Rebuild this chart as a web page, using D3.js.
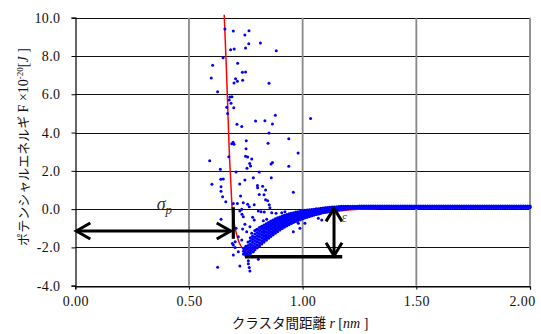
<!DOCTYPE html>
<html><head><meta charset="utf-8">
<script src="https://cdn.jsdelivr.net/npm/d3@7"></script>
<style>body{margin:0;background:#fff}svg{display:block}</style>
</head><body>
<svg id="c" width="541" height="334"></svg>
<script>
// ---- data ----
const xTicks = [0, 0.5, 1.0, 1.5, 2.0];
const yTicks = [-4, -2, 0, 2, 4, 6, 8, 10];

// red fitted curve (r [nm], F)
const fitCurve = [[0.655,10.15],[0.664,7.5],[0.670,5.5],[0.677,3.1],[0.684,1.4],[0.690,0.0],[0.698,-0.7],[0.708,-1.25],[0.717,-1.62],[0.727,-1.9],[0.740,-2.08],[0.755,-2.16],[0.770,-2.14],[0.79,-2.05],[0.815,-1.8],[0.842,-1.52],[0.88,-1.18],[0.915,-0.88],[0.96,-0.62],[1.0,-0.45],[1.1,-0.2],[1.2,-0.05],[1.35,0.05],[1.6,0.1],[2.0,0.12]];

// sparse scatter points (r, F)
const scatterPts = [
[0.658,9.41],[0.695,9.30],[0.764,9.32],[0.746,9.10],[0.763,8.64],[0.814,8.68],[0.683,8.33],[0.699,8.36],[0.749,8.42],[0.884,8.28],[0.650,7.91],[0.604,7.51],[0.714,7.62],[0.735,7.15],[0.749,7.16],[0.598,6.85],[0.705,6.81],[0.713,6.68],[0.698,6.59],[0.736,6.73],[0.852,6.57],[0.626,6.13],[0.680,5.86],[0.689,5.87],[0.677,5.70],[0.685,5.53],[0.666,5.32],[0.697,5.30],
[0.670,5.00],[0.880,4.90],[1.035,4.74],[0.711,4.43],[0.732,4.31],[0.793,4.60],[0.834,4.62],[0.867,4.45],[0.852,3.98],[0.752,3.57],[0.688,3.42],[0.698,3.39],[0.694,3.49],[0.848,3.44],[0.939,3.68],[0.751,3.16],[0.980,2.93],[0.675,2.74],[0.749,2.76],[0.758,2.72],[0.776,2.62],[0.591,2.53],[0.767,2.39],[0.771,2.25],[0.867,2.44],[0.861,2.36],[0.939,2.24],[0.755,2.13],[0.638,2.08],[0.707,1.94],[0.809,1.94],[0.862,1.64],[0.783,1.64],[0.640,1.56],[0.651,1.57],[0.746,1.52],[0.601,1.30],[0.723,1.31],[0.801,1.24],[0.824,1.19],[0.802,1.12],[0.641,1.17],[0.641,0.93],[0.837,1.00],[0.959,0.88],[0.648,0.65],[0.727,0.68],[0.809,0.77],[0.830,0.75],[0.837,0.49],
[0.662,0.39],[0.695,0.30],[0.713,0.30],[0.739,0.33],[0.758,0.25],[0.787,0.23],[0.846,0.44],[0.853,0.23],[0.856,0.07],[0.765,0.13],[0.732,0.0],[0.724,-0.10],[0.733,-0.27],[0.805,-0.10],[0.817,-0.14],[0.831,-0.15],[0.864,-0.19],[0.883,-0.22],[0.908,-0.19],[0.922,-0.14],[0.963,-0.27],[0.641,-0.53],[0.739,-0.40],[0.780,-0.43],[0.787,-0.57],[0.827,-0.61],[0.842,-0.53],
[0.707,-1.00],[0.717,-1.44],[0.732,-1.61],[0.695,-1.88],[0.703,-2.00],[0.703,-1.70],[0.717,-2.23],[0.746,-2.23],[0.768,-2.28],[0.783,-2.23],[0.754,-2.31],[0.805,-2.62],[0.761,-2.70],[0.724,-2.97],[0.761,-2.85],[0.765,-3.05],[0.768,-3.23],[0.626,-3.04],[0.695,-2.40],[0.691,-1.79],[0.746,-0.79],[0.768,-0.92],[0.736,-1.04],[0.754,-1.18],[0.776,-1.26],[0.798,-1.06],[0.820,-0.95],
[0.981,-0.74],[1.01,-0.74],[0.988,-1.0],[0.959,-1.18],[1.069,-0.48],[1.084,-0.57]
];

// dense band: [r, F values at that r ...]
const bandNear = [
[0.74,-2.35,-2.2,-2.05],[0.75,-2.42,-2.27,-2.1,-1.95],[0.76,-2.4,-2.24,-2.08,-1.9,-1.72],[0.77,-2.32,-2.16,-2.0,-1.84,-1.66,-1.5],
[0.78,-2.22,-2.05,-1.9,-1.74,-1.58,-1.42],[0.79,-2.12,-1.96,-1.8,-1.64,-1.48,-1.3,-1.12],[0.80,-2.02,-1.86,-1.7,-1.54,-1.38,-1.22,-1.05],
[0.81,-1.92,-1.76,-1.6,-1.44,-1.28,-1.12,-0.96],[0.82,-1.82,-1.66,-1.5,-1.35,-1.2,-1.05,-0.9],[0.83,-1.72,-1.57,-1.42,-1.27,-1.12,-0.98,-0.84],
[0.84,-1.62,-1.48,-1.34,-1.2,-1.05,-0.91,-0.77],[0.85,-1.52,-1.38,-1.25,-1.11,-0.97,-0.84,-0.7],[0.86,-1.43,-1.3,-1.17,-1.03,-0.9,-0.76,-0.63],
[0.87,-1.34,-1.21,-1.09,-0.96,-0.83,-0.7,-0.57],[0.88,-1.26,-1.14,-1.01,-0.89,-0.76,-0.64,-0.51],[0.89,-1.17,-1.05,-0.94,-0.82,-0.7,-0.58,-0.46],
[0.90,-1.09,-0.98,-0.87,-0.75,-0.64,-0.52,-0.41],[0.91,-1.01,-0.9,-0.8,-0.69,-0.58,-0.47,-0.37],[0.92,-0.94,-0.84,-0.74,-0.64,-0.53,-0.43,-0.33],
[0.93,-0.87,-0.77,-0.68,-0.58,-0.48,-0.39,-0.29],[0.94,-0.81,-0.72,-0.62,-0.53,-0.44,-0.34,-0.25],[0.95,-0.75,-0.66,-0.57,-0.48,-0.4,-0.31,-0.22],
[0.96,-0.69,-0.61,-0.52,-0.44,-0.36,-0.27,-0.19],[0.97,-0.64,-0.56,-0.48,-0.4,-0.32,-0.24,-0.16],[0.98,-0.59,-0.51,-0.44,-0.36,-0.29,-0.21,-0.14],
[0.99,-0.55,-0.47,-0.4,-0.33,-0.26,-0.18,-0.11],[1.00,-0.5,-0.43,-0.36,-0.29,-0.22,-0.15,-0.08],[1.01,-0.46,-0.39,-0.33,-0.26,-0.19,-0.13,-0.07],
[1.02,-0.42,-0.36,-0.29,-0.23,-0.17,-0.11,-0.05],[1.03,-0.38,-0.32,-0.26,-0.2,-0.14,-0.09,-0.04],[1.04,-0.35,-0.29,-0.23,-0.18,-0.12,-0.07,-0.02],
[1.05,-0.31,-0.26,-0.2,-0.15,-0.1,-0.05,-0.01],[1.06,-0.28,-0.22,-0.17,-0.12,-0.07,-0.03,0.01],[1.07,-0.25,-0.19,-0.14,-0.09,-0.05,-0.01,0.02],
[1.08,-0.22,-0.16,-0.11,-0.07,-0.02,0.01,0.04],[1.09,-0.19,-0.13,-0.09,-0.04,0.0,0.03,0.05],[1.10,-0.16,-0.11,-0.06,-0.02,0.02,0.05,0.07],
[1.11,-0.14,-0.09,-0.04,0.0,0.03,0.06,0.08],[1.12,-0.11,-0.07,-0.02,0.02,0.05,0.09],[1.13,-0.09,-0.05,0.0,0.03,0.06,0.1],
[1.14,-0.07,-0.03,0.01,0.04,0.07,0.11],[1.15,-0.05,-0.01,0.02,0.05,0.08,0.12],[1.16,-0.03,0.0,0.04,0.07,0.1,0.13],
[1.17,-0.02,0.02,0.05,0.08,0.11,0.14],[1.18,0.0,0.03,0.06,0.09,0.12,0.14],[1.19,0.01,0.04,0.07,0.1,0.12,0.15],[1.20,0.02,0.05,0.08,0.11,0.15]
];
const bandFar = [
[1.21,0.04,0.09,0.14],[1.22,0.05,0.1,0.15],[1.23,0.05,0.1,0.15],[1.24,0.06,0.11,0.15],[1.25,0.06,0.11,0.16],[1.26,0.07,0.11,0.16],[1.27,0.07,0.12,0.16],[1.28,0.07,0.12,0.16],[1.29,0.08,0.12,0.16],[1.30,0.08,0.12,0.16],
[1.31,0.08,0.12,0.16],[1.32,0.08,0.12,0.16],[1.33,0.08,0.12,0.16],[1.34,0.08,0.12,0.16],[1.35,0.08,0.12,0.16],[1.36,0.08,0.12,0.16],[1.37,0.08,0.12,0.16],[1.38,0.08,0.12,0.16],[1.39,0.08,0.12,0.16],[1.40,0.08,0.12,0.16],
[1.41,0.08,0.12,0.16],[1.42,0.08,0.12,0.16],[1.43,0.08,0.12,0.16],[1.44,0.08,0.12,0.16],[1.45,0.08,0.12,0.16],[1.46,0.08,0.12,0.16],[1.47,0.08,0.12,0.16],[1.48,0.08,0.12,0.16],[1.49,0.08,0.12,0.16],[1.50,0.08,0.12,0.16],
[1.51,0.08,0.12,0.16],[1.52,0.08,0.12,0.16],[1.53,0.08,0.12,0.16],[1.54,0.08,0.12,0.16],[1.55,0.08,0.12,0.16],[1.56,0.08,0.12,0.16],[1.57,0.08,0.12,0.16],[1.58,0.08,0.12,0.16],[1.59,0.08,0.12,0.16],[1.60,0.08,0.12,0.16],
[1.61,0.08,0.12,0.16],[1.62,0.08,0.12,0.16],[1.63,0.08,0.12,0.16],[1.64,0.08,0.12,0.16],[1.65,0.08,0.12,0.16],[1.66,0.08,0.12,0.16],[1.67,0.08,0.12,0.16],[1.68,0.08,0.12,0.16],[1.69,0.08,0.12,0.16],[1.70,0.08,0.12,0.16],
[1.71,0.08,0.12,0.16],[1.72,0.08,0.12,0.16],[1.73,0.08,0.12,0.16],[1.74,0.08,0.12,0.16],[1.75,0.08,0.12,0.16],[1.76,0.08,0.12,0.16],[1.77,0.08,0.12,0.16],[1.78,0.08,0.12,0.16],[1.79,0.08,0.12,0.16],[1.80,0.08,0.12,0.16],
[1.81,0.08,0.12,0.16],[1.82,0.08,0.12,0.16],[1.83,0.08,0.12,0.16],[1.84,0.08,0.12,0.16],[1.85,0.08,0.12,0.16],[1.86,0.08,0.12,0.16],[1.87,0.08,0.12,0.16],[1.88,0.08,0.12,0.16],[1.89,0.08,0.12,0.16],[1.90,0.08,0.12,0.16],
[1.91,0.08,0.12,0.16],[1.92,0.08,0.12,0.16],[1.93,0.08,0.12,0.16],[1.94,0.08,0.12,0.16],[1.95,0.08,0.12,0.16],[1.96,0.08,0.12,0.16],[1.97,0.08,0.12,0.16],[1.98,0.08,0.12,0.16],[1.99,0.08,0.12,0.16],[2.00,0.08,0.12,0.16]
];

// annotation geometry in data units
const sigmaArrow = {f: -1.14, r0: 0.0, r1: 0.688};
const sigmaBar = {r: 0.695, f0: 0.1, f1: -1.55};
const epsBase = {f: -2.49, r0: 0.746, r1: 1.174};
const epsArrow = {r: 1.138, f0: 0.09, f1: -2.49};

// ---- drawing ----
const svg = d3.select('#c');
const x = d3.scaleLinear().domain([0, 2]).range([75.3, 530]);
const y = d3.scaleLinear().domain([-4, 10]).range([285.7, 17.7]);
const serif = "'Liberation Serif','Times New Roman',serif";
const jp = "'Noto Sans CJK JP','Noto Sans',sans-serif";

// horizontal gridlines
svg.append('g').selectAll('line').data(yTicks).join('line')
  .attr('x1', x(0)).attr('x2', x(2))
  .attr('y1', d => Math.round(y(d)) + 0.5).attr('y2', d => Math.round(y(d)) + 0.5)
  .attr('stroke', '#111').attr('stroke-width', 1);
// vertical gridlines
svg.append('g').selectAll('line').data(xTicks.slice(1)).join('line')
  .attr('x1', d => x(d)).attr('x2', d => x(d))
  .attr('y1', y(10)).attr('y2', y(-4))
  .attr('stroke', '#888').attr('stroke-width', 1.8);

// axes
const ya = svg.append('g').attr('transform', `translate(${Math.round(x(0))+0.5},0)`)
  .call(d3.axisLeft(y).tickValues(yTicks).tickSize(4).tickPadding(11).tickFormat(d => d.toFixed(1)));
const xa = svg.append('g').attr('transform', `translate(0,${Math.round(y(-4))+0.5})`)
  .call(d3.axisBottom(x).tickValues(xTicks).tickSize(3).tickPadding(7).tickFormat(d => d.toFixed(2)));
[ya, xa].forEach(g => {
  g.select('.domain').attr('stroke', '#000').attr('stroke-width', 1.2);
  g.selectAll('.tick line').attr('stroke', '#000');
  g.selectAll('text').attr('font-family', serif).attr('font-size', 14).attr('fill', '#111').attr('letter-spacing', 0.4);
});
xa.selectAll('.tick text').filter(d => d === 2).attr('dx', -8);

// red curve
svg.append('path').datum(fitCurve)
  .attr('d', d3.line().x(d => x(d[0])).y(d => y(d[1])).curve(d3.curveMonotoneX))
  .attr('fill', 'none').attr('stroke', '#ff0000').attr('stroke-width', 1.5);

// scatter dots
const bandPts = [];
bandNear.concat(bandFar).forEach(c => c.slice(1).forEach(v => bandPts.push([c[0], v])));
svg.append('g').selectAll('circle').data(bandPts).join('circle')
  .attr('cx', d => x(d[0])).attr('cy', d => y(d[1])).attr('r', 1.6)
  .attr('fill', '#0000ff');
svg.append('g').selectAll('circle').data(scatterPts).join('circle')
  .attr('cx', d => x(d[0])).attr('cy', d => y(d[1])).attr('r', 1.5)
  .attr('fill', '#0000ff');

// annotations
const ann = svg.append('g').attr('stroke', '#000').attr('fill', 'none').attr('stroke-linejoin', 'miter');
ann.append('line').attr('x1', x(sigmaArrow.r0)+1).attr('x2', x(sigmaArrow.r1)-1)
  .attr('y1', y(sigmaArrow.f)).attr('y2', y(sigmaArrow.f)).attr('stroke-width', 3);
ann.append('path').attr('stroke-width', 3)
  .attr('d', `M${x(sigmaArrow.r0)+15},${y(sigmaArrow.f)-8}L${x(sigmaArrow.r0)+1},${y(sigmaArrow.f)}L${x(sigmaArrow.r0)+15},${y(sigmaArrow.f)+8}`);
ann.append('path').attr('stroke-width', 3)
  .attr('d', `M${x(sigmaArrow.r1)-15},${y(sigmaArrow.f)-8}L${x(sigmaArrow.r1)-1},${y(sigmaArrow.f)}L${x(sigmaArrow.r1)-15},${y(sigmaArrow.f)+8}`);
ann.append('line').attr('x1', x(sigmaBar.r)).attr('x2', x(sigmaBar.r))
  .attr('y1', y(sigmaBar.f0)).attr('y2', y(sigmaBar.f1)).attr('stroke-width', 3.2);
ann.append('line').attr('x1', x(epsBase.r0)).attr('x2', x(epsBase.r1))
  .attr('y1', y(epsBase.f)).attr('y2', y(epsBase.f)).attr('stroke-width', 3.5);
ann.append('line').attr('x1', x(epsArrow.r)).attr('x2', x(epsArrow.r))
  .attr('y1', y(epsArrow.f0)+1).attr('y2', y(epsArrow.f1)-1).attr('stroke-width', 3);
ann.append('path').attr('stroke-width', 3)
  .attr('d', `M${x(epsArrow.r)-8},${y(epsArrow.f0)+14}L${x(epsArrow.r)},${y(epsArrow.f0)+1}L${x(epsArrow.r)+8},${y(epsArrow.f0)+14}`);
ann.append('path').attr('stroke-width', 3)
  .attr('d', `M${x(epsArrow.r)-8},${y(epsArrow.f1)-14}L${x(epsArrow.r)},${y(epsArrow.f1)-1}L${x(epsArrow.r)+8},${y(epsArrow.f1)-14}`);

// σp label
const sp = svg.append('text').attr('x', x(0.358)).attr('y', y(-0.05))
  .attr('font-family', serif).attr('fill', '#333').attr('font-style', 'italic');
sp.append('tspan').attr('font-size', 18).text('σ');
sp.append('tspan').attr('font-size', 13).attr('dy', 4).text('p');
// ε label
svg.append('text').attr('x', x(1.171)).attr('y', y(-0.66))
  .attr('font-family', serif).attr('font-style', 'italic').attr('font-size', 14)
  .attr('fill', '#555').text('ε');

// y title
const yt = svg.append('text').attr('transform', 'translate(28,147) rotate(-90)')
  .attr('text-anchor', 'middle').attr('font-size', 13).attr('fill', '#111');
yt.append('tspan').attr('font-family', jp).text('ポテンシャルエネルギ');
yt.append('tspan').attr('font-family', serif).attr('font-size', 14).text(' F ×10');
yt.append('tspan').attr('font-family', serif).attr('font-size', 9).attr('dy', -5).text('-20');
yt.append('tspan').attr('font-family', serif).attr('font-size', 14).attr('dy', 5).text('[');
yt.append('tspan').attr('font-family', serif).attr('font-size', 14).attr('font-style', 'italic').text('J ');
yt.append('tspan').attr('font-family', serif).attr('font-size', 14).text(']');

// x title
const xt = svg.append('text').attr('x', 300).attr('y', 328)
  .attr('text-anchor', 'middle').attr('font-size', 13.5).attr('fill', '#111');
xt.append('tspan').attr('font-family', jp).text('クラスタ間距離');
xt.append('tspan').attr('font-family', serif).attr('font-size', 14).attr('font-style', 'italic').text(' r ');
xt.append('tspan').attr('font-family', serif).attr('font-size', 14).text('[');
xt.append('tspan').attr('font-family', serif).attr('font-size', 14).attr('font-style', 'italic').text('nm ');
xt.append('tspan').attr('font-family', serif).attr('font-size', 14).text(']');
</script>
</body></html>
